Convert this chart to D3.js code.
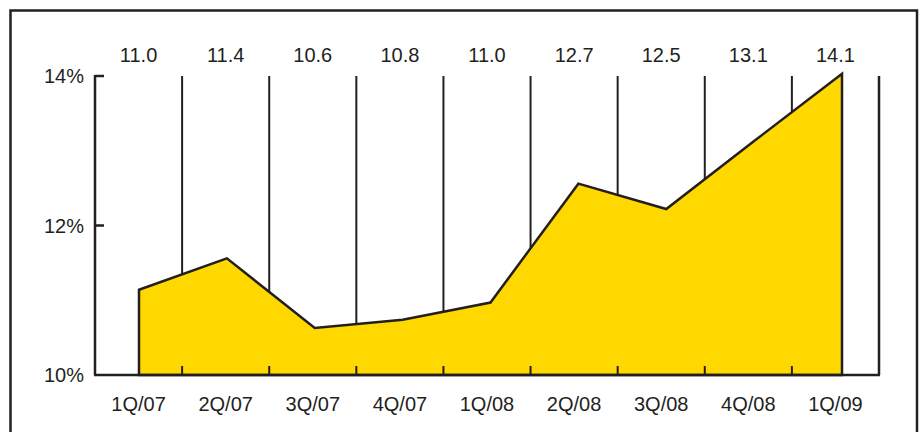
<!DOCTYPE html>
<html>
<head>
<meta charset="utf-8">
<script src="https://cdn.jsdelivr.net/npm/d3@7"></script>
<style>
  html, body { margin: 0; padding: 0; background: #ffffff; }
  svg { display: block; }
  text { font-family: "Liberation Sans", Arial, Helvetica, sans-serif; fill: #231f20; }
</style>
</head>
<body>
<script>
// ---- data ----
const categories = ["1Q/07", "2Q/07", "3Q/07", "4Q/07", "1Q/08", "2Q/08", "3Q/08", "4Q/08", "1Q/09"];
const values = [11.14, 11.56, 10.63, 10.74, 10.97, 12.56, 12.22, 13.13, 14.03];
const valueLabels = ["11.0", "11.4", "10.6", "10.8", "11.0", "12.7", "12.5", "13.1", "14.1"];
const yTicks = [10, 12, 14];

(function () {
const W = 922, H = 432;
const ink = "#231f20";
const fillColor = "#ffd800";
const fs = 20;

const svg = d3.select("body").append("svg").attr("width", W).attr("height", H);

// outer frame (bottom runs off the picture)
svg.append("rect")
  .attr("x", 10.5).attr("y", 10.5).attr("width", 906.5).attr("height", 440)
  .attr("fill", "none").attr("stroke", ink).attr("stroke-width", 2.5);

const pLeft = 95, pRight = 879, pTop = 76, pBottom = 375;

const xBand = d3.scaleBand().domain(categories).range([pLeft, pRight]).padding(0);
const xPt = d3.scalePoint().domain(categories).range([139, 842]);
const y = d3.scaleLinear().domain([10, 14]).range([pBottom, pTop]);

// vertical separators (behind area)
const bounds = categories.map(c => xBand(c) + xBand.bandwidth());
svg.append("g").selectAll("line").data(bounds).join("line")
  .attr("x1", d => d).attr("x2", d => d)
  .attr("y1", pTop).attr("y2", pBottom)
  .attr("stroke", ink).attr("stroke-width", 2);

// area
const area = d3.area()
  .x((d, i) => xPt(categories[i]))
  .y0(y(10))
  .y1(d => y(d))
  .curve(d3.curveLinear);

svg.append("path")
  .datum(values)
  .attr("d", area)
  .attr("fill", fillColor)
  .attr("stroke", ink)
  .attr("stroke-width", 2.5)
  .attr("stroke-linejoin", "miter");

// bottom tick marks on top of area
svg.append("g").selectAll("line").data(bounds.slice(0, -1)).join("line")
  .attr("x1", d => d).attr("x2", d => d)
  .attr("y1", pBottom - 9).attr("y2", pBottom)
  .attr("stroke", ink).attr("stroke-width", 2);

// axes lines
svg.append("line").attr("x1", pLeft).attr("x2", pLeft).attr("y1", pTop - 1).attr("y2", pBottom)
  .attr("stroke", ink).attr("stroke-width", 2.5);
svg.append("line").attr("x1", pRight).attr("x2", pRight).attr("y1", pTop).attr("y2", pBottom)
  .attr("stroke", ink).attr("stroke-width", 2.5);
svg.append("line").attr("x1", pLeft - 1).attr("x2", pRight + 1).attr("y1", pBottom).attr("y2", pBottom)
  .attr("stroke", ink).attr("stroke-width", 2.5);

// y ticks (inward) and labels
const yg = svg.append("g");
yg.selectAll("line").data(yTicks.filter(t => t > 10)).join("line")
  .attr("x1", pLeft).attr("x2", pLeft + 9)
  .attr("y1", d => y(d)).attr("y2", d => y(d))
  .attr("stroke", ink).attr("stroke-width", 2.5);
yg.selectAll("text").data(yTicks).join("text")
  .attr("x", 84).attr("y", d => y(d) + 7)
  .attr("text-anchor", "end")
  .attr("font-size", fs)
  .text(d => d + "%");

// category labels
svg.append("g").selectAll("text").data(categories).join("text")
  .attr("x", d => xBand(d) + xBand.bandwidth() / 2)
  .attr("y", 411)
  .attr("text-anchor", "middle")
  .attr("font-size", fs)
  .text(d => d);

// value labels on top
svg.append("g").selectAll("text").data(valueLabels).join("text")
  .attr("x", (d, i) => xBand(categories[i]) + xBand.bandwidth() / 2)
  .attr("y", 62)
  .attr("text-anchor", "middle")
  .attr("font-size", fs)
  .text(d => d);
})();
</script>
</body>
</html>
